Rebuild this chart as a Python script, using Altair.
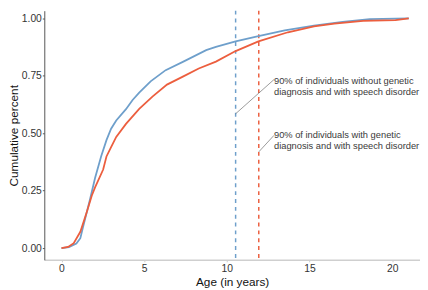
import altair as alt
import pandas as pd

# Cumulative distribution of age at speech-disorder diagnosis
blue_age = [0.0, 0.45, 0.9, 1.14, 1.3, 1.43, 1.73, 2.03, 2.4, 2.72, 3.0, 3.31, 3.9, 4.3, 4.7,
            5.39, 6.3, 7.37, 8.75, 9.34, 10.53, 11.91, 13.5, 15.27, 17.0, 18.64, 21.0]
blue_cum = [0.0, 0.004, 0.02, 0.043, 0.09, 0.128, 0.214, 0.305, 0.40, 0.47, 0.52, 0.556, 0.605,
            0.645, 0.677, 0.726, 0.775, 0.812, 0.862, 0.876, 0.90, 0.923, 0.948, 0.969, 0.985,
            0.997, 1.0]

red_age = [0.0, 0.4, 0.74, 1.14, 1.53, 1.83, 2.03, 2.52, 2.72, 3.0, 3.31, 3.9, 4.7, 5.5, 6.38,
           7.37, 8.3, 9.34, 10.53, 11.91, 13.69, 15.27, 16.5, 18.24, 20.2, 21.0]
red_cum = [0.0, 0.005, 0.021, 0.071, 0.157, 0.228, 0.264, 0.342, 0.399, 0.44, 0.484, 0.541,
           0.606, 0.66, 0.712, 0.748, 0.782, 0.812, 0.858, 0.90, 0.94, 0.966, 0.978, 0.99,
           0.993, 1.0]

series_names = ["without", "with"]
series_colors = ["#4A83B8", "#EC5E3E"]
dash_colors = ["#6E9FCB", "#EC5E3E"]

# ages at which 90% reached
pct90_age = [10.53, 11.93]
pct90_level = [0.585, 0.419]

annot_text = [
    ["90% of individuals without genetic", "diagnosis and with speech disorder"],
    ["90% of individuals with genetic", "diagnosis and with speech disorder"],
]
annot_x = [12.85, 12.85]
annot_y = [0.748, 0.513]
annot_line_end_y = [0.734, 0.491]

curves = pd.DataFrame(
    {"age": blue_age, "cum": blue_cum, "grp": series_names[0], "order": range(len(blue_age))}
)
curves = pd.concat([
    curves,
    pd.DataFrame({"age": red_age, "cum": red_cum, "grp": series_names[1], "order": range(len(red_age))}),
])

rules = pd.DataFrame({"age": pct90_age, "grp": series_names})
segs = pd.DataFrame({"x": pct90_age, "y": pct90_level, "x2": annot_x, "y2": annot_line_end_y})
texts = pd.DataFrame({"x": annot_x, "y": annot_y, "label": annot_text})

xscale = alt.Scale(domain=[-1.04, 21.68], nice=False, zero=False)
yscale = alt.Scale(domain=[-0.0513, 1.034], nice=False, zero=False)

lines = alt.Chart(curves).mark_line(strokeWidth=1.8).encode(
    x=alt.X("age:Q", scale=xscale,
            axis=alt.Axis(title="Age (in years)", values=[0, 5, 10, 15, 20], format="d",
                          domainColor="#cfcfcf", domainWidth=1.5, tickColor="#cfcfcf",
                          tickSize=2, labelPadding=2, titlePadding=3)),
    y=alt.Y("cum:Q", scale=yscale,
            axis=alt.Axis(title="Cumulative percent", values=[0, 0.25, 0.5, 0.75, 1.0],
                          format=".2f", domainColor="#555555", domainWidth=1,
                          tickColor="#555555", tickSize=2, labelPadding=1, titlePadding=1)),
    color=alt.Color("grp:N", scale=alt.Scale(domain=series_names, range=series_colors), legend=None),
    order="order:Q",
)

vrules = alt.Chart(rules).mark_rule(strokeWidth=1.5, strokeDash=[4, 4]).encode(
    x=alt.X("age:Q", scale=xscale),
    color=alt.Color("grp:N", scale=alt.Scale(domain=series_names, range=dash_colors), legend=None),
)

connectors = alt.Chart(segs).mark_rule(strokeWidth=0.6, color="#555555").encode(
    x=alt.X("x:Q", scale=xscale), y=alt.Y("y:Q", scale=yscale),
    x2="x2:Q", y2="y2:Q",
)

labels = alt.Chart(texts).mark_text(
    align="left", baseline="top", fontSize=9.5, lineHeight=11.5, color="#3a3a3a",
    font="Liberation Sans",
).encode(
    x=alt.X("x:Q", scale=xscale), y=alt.Y("y:Q", scale=yscale), text="label"
)

chart = alt.layer(vrules, lines, connectors, labels).properties(
    width=383, height=254,
    autosize=alt.AutoSizeParams(type="none"),
    padding={"left": 37, "top": 0, "right": 0, "bottom": 28},
).configure_view(stroke=None).configure_axis(
    grid=False, labelFont="Liberation Sans", titleFont="Liberation Sans",
    labelFontSize=10.5, titleFontSize=12, labelColor="#333333", titleColor="#111111",
    titleFontWeight="normal",
)

chart.save("out.html", embed_options={"renderer": "svg", "actions": False})
